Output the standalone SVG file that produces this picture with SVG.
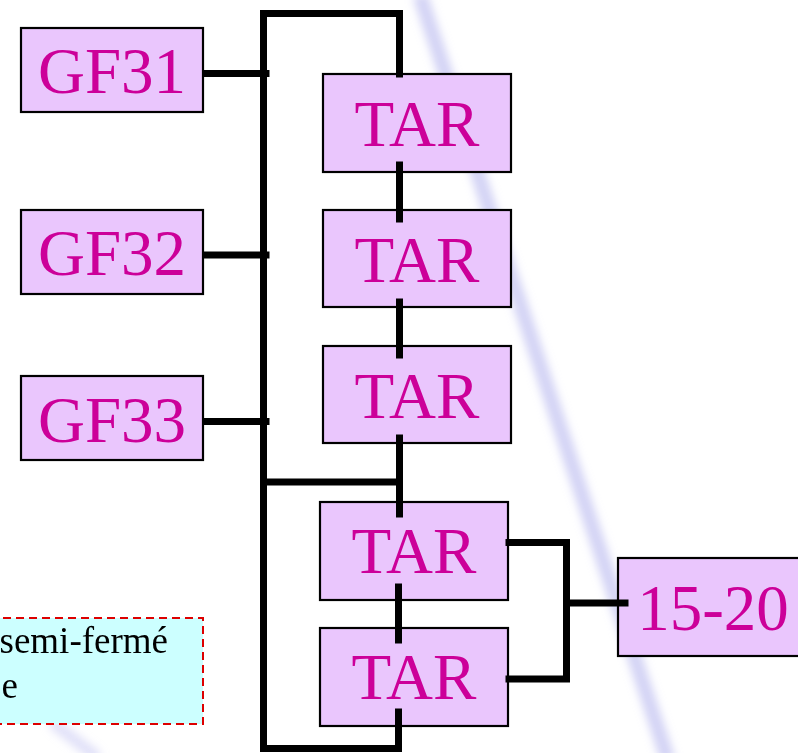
<svg xmlns="http://www.w3.org/2000/svg" width="798" height="753" viewBox="0 0 798 753">
<style>
.box{fill:#EAC6FD;stroke:#000;stroke-width:2.2}
.lbl{font-family:"Liberation Serif","Times New Roman",serif;font-size:65px;fill:#CC0099;text-anchor:middle}
.note{font-family:"Liberation Serif","Times New Roman",serif;font-size:37px;fill:#000;text-anchor:end}
.wire{fill:none;stroke:#000;stroke-width:7;stroke-linecap:square;stroke-linejoin:miter}
</style>
<defs>
<filter id="blur" x="-20%" y="-20%" width="140%" height="140%"><feGaussianBlur stdDeviation="4"/></filter>
</defs>
<rect width="798" height="753" fill="#fff"/>
<g id="background" filter="url(#blur)">
<line x1="420" y1="-5" x2="668" y2="760" stroke="#BDBDF0" stroke-width="15" opacity="0.65"/>
<line x1="52" y1="722" x2="98" y2="758" stroke="#C8C8F2" stroke-width="12" opacity="0.55"/>
</g>
<g id="note">
<rect x="-10" y="618" width="213" height="106" fill="#CCFFFF" stroke="#DD0000" stroke-width="2" stroke-dasharray="8,5"/>
<text class="note" x="168" y="653">semi-fermé</text>
<text class="note" x="18" y="698">e</text>
</g>
<g id="gf31"><rect class="box" x="21" y="28" width="182" height="84"/><text class="lbl" x="112" y="93">GF31</text></g>
<g id="gf32"><rect class="box" x="21" y="210" width="182" height="84"/><text class="lbl" x="112" y="275">GF32</text></g>
<g id="gf33"><rect class="box" x="21" y="376" width="182" height="84"/><text class="lbl" x="112" y="442">GF33</text></g>
<g id="tar1"><rect class="box" x="323" y="74" width="188" height="98"/><text class="lbl" x="417" y="146">TAR</text></g>
<g id="tar2"><rect class="box" x="323" y="210" width="188" height="97"/><text class="lbl" x="417" y="282">TAR</text></g>
<g id="tar3"><rect class="box" x="323" y="346" width="188" height="97"/><text class="lbl" x="417" y="418">TAR</text></g>
<g id="tar4"><rect class="box" x="320" y="502" width="188" height="98"/><text class="lbl" x="414" y="573">TAR</text></g>
<g id="tar5"><rect class="box" x="320" y="628" width="188" height="98"/><text class="lbl" x="414" y="699">TAR</text></g>
<g id="n1520"><rect class="box" x="618" y="558" width="195" height="98"/><text class="lbl" x="713" y="630">15-20</text></g>
<g id="connectors">
<path class="wire" d="M399.5,74 V13.5 H263.5 V748.5 H398.5 V712"/>
<line class="wire" x1="206" y1="73.5" x2="266" y2="73.5"/>
<line class="wire" x1="206" y1="255" x2="266" y2="255"/>
<line class="wire" x1="206" y1="421.5" x2="266" y2="421.5"/>
<line class="wire" x1="399.5" y1="165" x2="399.5" y2="219"/>
<line class="wire" x1="399.5" y1="302" x2="399.5" y2="355"/>
<line class="wire" x1="399.5" y1="438" x2="399.5" y2="514"/>
<line class="wire" x1="263.5" y1="482" x2="399.5" y2="482"/>
<line class="wire" x1="398.5" y1="587" x2="398.5" y2="640"/>
<path class="wire" d="M509,542.5 H566.5 V679 H509"/>
<line class="wire" x1="566.5" y1="603" x2="625" y2="603"/>
</g>
</svg>
